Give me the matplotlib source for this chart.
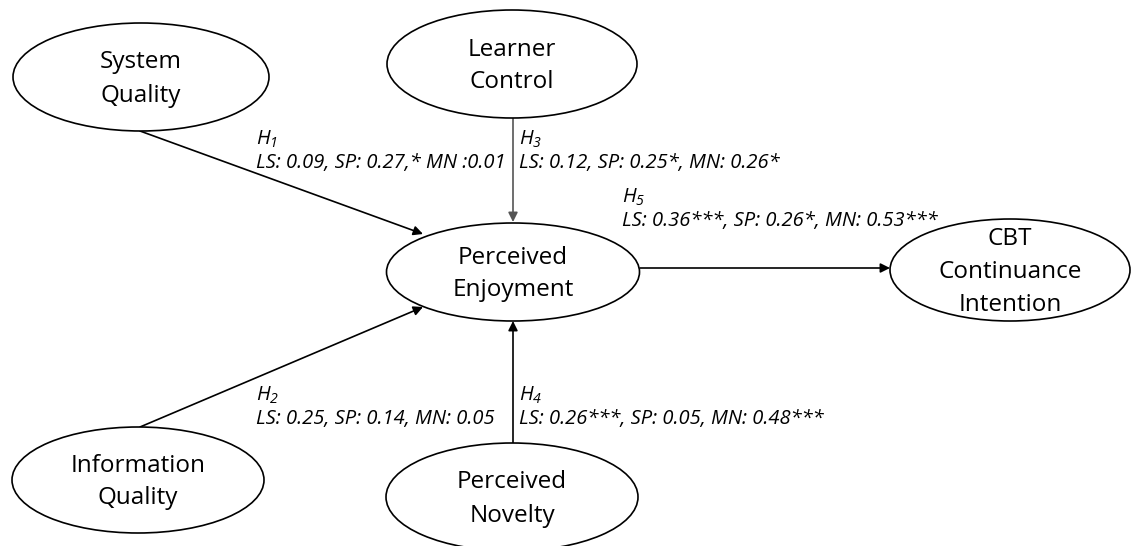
import matplotlib.pyplot as plt
from matplotlib.patches import Ellipse

plt.rcParams['font.family'] = ['Open Sans', 'DejaVu Sans']
plt.rcParams['mathtext.fontset'] = 'custom'
plt.rcParams['mathtext.it'] = 'Open Sans:italic'
plt.rcParams['mathtext.rm'] = 'Open Sans:italic'

# constructs in the path model
nodes = ['System\nQuality', 'Learner\nControl', 'Perceived\nEnjoyment',
         'CBT\nContinuance\nIntention', 'Information\nQuality', 'Perceived\nNovelty']
# hypotheses: (from, to, name, coefficients)
paths = [(0, 2, '1', 'LS: 0.09, SP: 0.27,* MN :0.01'),
         (4, 2, '2', 'LS: 0.25, SP: 0.14, MN: 0.05'),
         (1, 2, '3', 'LS: 0.12, SP: 0.25*, MN: 0.26*'),
         (5, 2, '4', 'LS: 0.26***, SP: 0.05, MN: 0.48***'),
         (2, 3, '5', 'LS: 0.36***, SP: 0.26*, MN: 0.53***')]

# layout in pixels (center x, center y, width, height)
layout = [(141, 77, 256, 108), (512, 64, 250, 108), (513, 272, 253, 98),
          (1010, 270, 240, 102), (138, 480, 252, 106), (512, 497, 252, 108)]
# arrow endpoints and label anchors per hypothesis
arrow_xy = [((140, 131), (423, 234)), ((140, 427), (423, 307)),
            ((513, 118), (513, 222)), ((513, 443), (513, 321)),
            ((640, 268), (890, 268))]
label_xy = [(256, 145), (256, 401), (519, 145), (519, 401), (622, 203)]

fig = plt.figure(figsize=(11.33, 5.46), dpi=100)
ax = fig.add_axes([0, 0, 1, 1])
ax.set_xlim(0, 1133)
ax.set_ylim(546, 0)
ax.axis('off')

for name, (cx, cy, w, h) in zip(nodes, layout):
    ax.add_patch(Ellipse((cx, cy), w, h, facecolor='white', edgecolor='black', lw=1.2, zorder=2))
    ax.text(cx, cy + 2, name, ha='center', va='center', fontsize=17.5,
            linespacing=1.5, zorder=3)

for (a, b, hname, coef), (p0, p1), (lx, ly) in zip(paths, arrow_xy, label_xy):
    col = '#555555' if hname == '3' else 'black'
    ax.annotate('', xy=p1, xytext=p0,
                arrowprops=dict(arrowstyle='-|>', color=col, lw=1.2,
                                mutation_scale=14, shrinkA=0, shrinkB=0), zorder=1)
    ax.text(lx, ly, r'$H_{%s}$' % hname, fontsize=14.5, va='baseline', ha='left')
    ax.text(lx, ly + 23, coef, fontsize=14.5, style='italic', va='baseline', ha='left')

fig.savefig('out.png', dpi=100, facecolor='white')
